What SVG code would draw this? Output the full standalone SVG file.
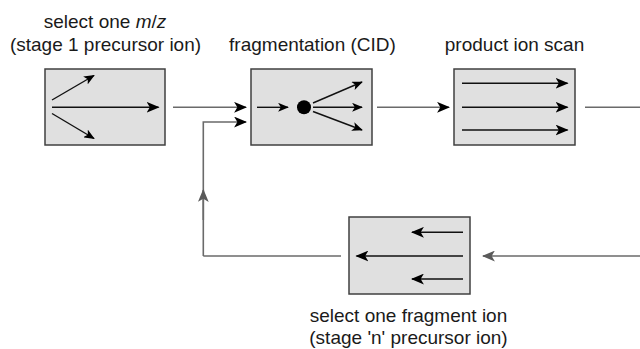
<svg xmlns="http://www.w3.org/2000/svg" width="640" height="349" viewBox="0 0 640 349">
<defs>
<style>
.box{fill:#e0e0e0;stroke:#404040;stroke-width:1.5}
.in{stroke:#111;stroke-width:1.4;fill:none}
.con{stroke:#6a6a6a;stroke-width:1.6;fill:none}
.lbl{font-family:"Liberation Sans",Arial,sans-serif;font-size:19px;fill:#1a1a1a;text-anchor:middle}
</style>
<marker id="ab" viewBox="0 0 12 10" refX="11" refY="5" markerWidth="13" markerHeight="11" markerUnits="userSpaceOnUse" orient="auto">
<path d="M0,0 L12,5 L0,10 L3,5 z" fill="#000"/>
</marker>
<marker id="abs" viewBox="0 0 12 10" refX="11" refY="5" markerWidth="11" markerHeight="9" markerUnits="userSpaceOnUse" orient="auto">
<path d="M0,0 L12,5 L0,10 L3,5 z" fill="#000"/>
</marker>
<marker id="ag" viewBox="0 0 12 10" refX="11" refY="5" markerWidth="13" markerHeight="11" markerUnits="userSpaceOnUse" orient="auto">
<path d="M0,0 L12,5 L0,10 L3,5 z" fill="#5a5a5a"/>
</marker>
</defs>

<g id="connectors">
<path class="con" d="M173,107.3 H246" marker-end="url(#ab)"/>
<path class="con" d="M203.3,256 V122 H246" marker-end="url(#ab)"/>
<path class="con" d="M377,107.3 H449" marker-end="url(#ab)"/>
<path class="con" d="M585,107.3 H642"/>
<path class="con" d="M642,256 H483" marker-end="url(#ag)"/>
<path class="con" d="M341,256 H203.3"/>
<path class="con" d="M203.3,220 V190" marker-end="url(#ag)"/>
</g>

<g id="node1">
<rect class="box" x="45" y="69" width="120" height="76"/>
<path class="in" d="M52,100 L94,75.5" marker-end="url(#abs)"/>
<path class="in" d="M52,107.3 H158.5" marker-end="url(#ab)"/>
<path class="in" d="M52,113.5 L94,138.5" marker-end="url(#abs)"/>
<text class="lbl" x="105" y="27.5">select one <tspan font-style="italic">m</tspan>/<tspan font-style="italic">z</tspan></text>
<text class="lbl" x="105.5" y="51">(stage 1 precursor ion)</text>
</g>

<g id="node2">
<rect class="box" x="251" y="69" width="121" height="76"/>
<path class="in" d="M257,107.3 H288" marker-end="url(#abs)"/>
<circle cx="304" cy="107.3" r="7" fill="#000"/>
<path class="in" d="M313,103 L362,82" marker-end="url(#abs)"/>
<path class="in" d="M313,107.3 H362" marker-end="url(#abs)"/>
<path class="in" d="M313,111.5 L362,130" marker-end="url(#abs)"/>
<text class="lbl" x="312.5" y="51">fragmentation (CID)</text>
</g>

<g id="node3">
<rect class="box" x="454" y="69" width="121" height="76"/>
<path class="in" d="M462,83.3 H567.5" marker-end="url(#ab)"/>
<path class="in" d="M462,107.3 H567.5" marker-end="url(#ab)"/>
<path class="in" d="M462,130 H567.5" marker-end="url(#ab)"/>
<text class="lbl" x="514.5" y="51">product ion scan</text>
</g>

<g id="node4">
<rect class="box" x="349" y="217" width="121" height="77"/>
<path class="in" d="M463,232.3 H412" marker-end="url(#ab)"/>
<path class="in" d="M463,256 H356.5" marker-end="url(#ab)"/>
<path class="in" d="M463,279 H412" marker-end="url(#ab)"/>
<text class="lbl" x="408.5" y="322">select one fragment ion</text>
<text class="lbl" x="408.5" y="344">(stage 'n' precursor ion)</text>
</g>
</svg>
